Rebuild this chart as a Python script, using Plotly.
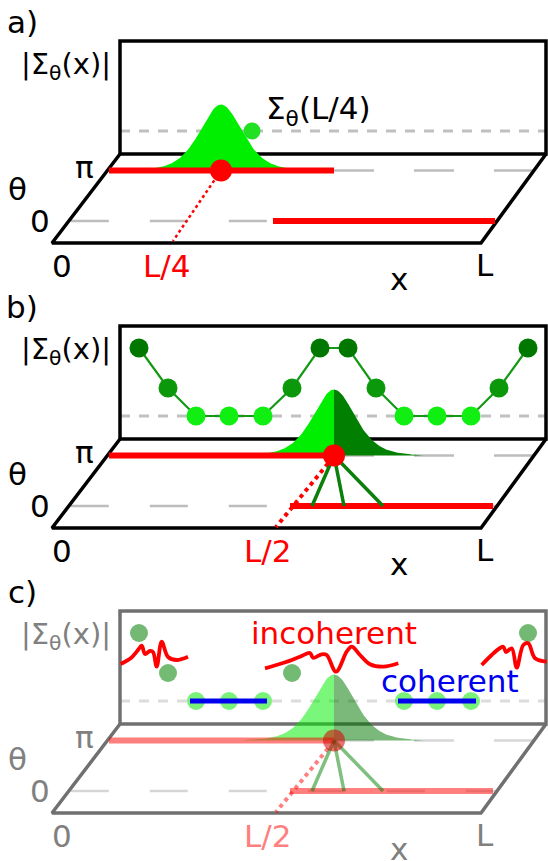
import numpy as np
import plotly.graph_objects as go

W, H = 548, 861
FONT = "DejaVu Sans"

# ---------------- geometry of one panel (panel a frame, px) ----------------
PANEL_DY = [0, 285, 570]
WALL_X0, WALL_X1, WALL_TOP, WALL_BOT = 120, 546, 41, 154
FRONT_X0, FRONT_X1, FRONT_Y = 52, 481, 243
Y_PI, Y_ZERO, Y_BASE = 170.5, 221, 131

# ---------------- schematic data ----------------
# |Σθ(x)| at lattice sites (level above dashed reference line, px)
site_x = [139, 168, 196, 229, 263, 292, 320, 348, 376, 404, 437, 471, 499, 528]
levels_b = [2, 1, 0, 0, 0, 1, 2, 2, 1, 0, 0, 0, 1, 2]
levels_c = [2, 1, 0, 0, 0, 1, None, None, None, 0, 0, 0, None, 2]
level_px = {0: 0, 1: 28, 2: 68}

# domain-wall segments (x extents of red lines) per panel
pi_segment = {"a": (109, 334), "b": (109, 334), "c": (109, 334)}
zero_segment = {"a": (273, 495), "b": (290, 493), "c": (290, 493)}
wall_pos = {"a": 221, "b": 334, "c": 334}          # position of probed site
front_hit = {"a": 173, "b": 276, "c": 276}          # dotted line foot on x axis
peak_height, peak_width = 66, 28                      # local self-energy bump
spoke_x = [312, 344, 383]                              # couplings to θ=0 line
sigma_a_dot = (252, 131)

# incoherent wiggles in panel c
wig_left_x = [120.7, 131, 138, 141.7, 145, 150, 153, 156.7, 161.7, 168, 176.7, 188]
wig_left_y = [664, 658, 650, 645.7, 654, 651, 652, 666.7, 641.7, 657, 660, 656.7]
wig_mid_x = [265, 283, 300, 310, 313, 321.7, 326.7, 336, 346.7, 351.7, 360, 370, 383.3, 398.3]
wig_mid_y = [668.3, 663, 656.7, 653, 657.7, 654.3, 655, 671.7, 651.7, 646.7, 655, 664.3, 666.7, 663.3]
wig_right_x = [481.7, 491.7, 500, 503.3, 506, 511.7, 516.7, 523.3, 528.3, 535, 546.7]
wig_right_y = [665, 655, 648, 646.7, 652, 648.3, 667.7, 645, 643.3, 658.3, 661.7]
coherent_x = [(190, 267), (398, 476)]

fig = go.Figure()


def line(xs, ys, color, width, dash="solid", mode="lines", shape="linear"):
    fig.add_trace(go.Scatter(x=xs, y=ys, mode=mode, hoverinfo="skip",
                             line=dict(color=color, width=width, dash=dash, shape=shape)))


def poly(xs, ys, color):
    fig.add_trace(go.Scatter(x=xs, y=ys, mode="lines", fill="toself", fillcolor=color,
                             line=dict(width=0), hoverinfo="skip"))


def dots(xs, ys, color, size):
    fig.add_trace(go.Scatter(x=xs, y=ys, mode="markers", hoverinfo="skip",
                             marker=dict(color=color, size=size, line=dict(width=0))))


def text(x, y, s, color="black", size=31):
    fig.add_annotation(x=x, y=y, text=s, showarrow=False, xanchor="center", yanchor="middle",
                       font=dict(family=FONT, size=size, color=color))


def left_edge_x(y):
    return FRONT_X0 + (FRONT_Y - y) / (FRONT_Y - WALL_BOT) * (WALL_X0 - FRONT_X0)


def right_edge_x(y):
    return FRONT_X1 + (FRONT_Y - y) / (FRONT_Y - WALL_BOT) * (WALL_X1 - FRONT_X1)


def bump(center, base, left_color, right_color, split):
    d = np.linspace(-3.2 * peak_width, 3.2 * peak_width, 161)
    prof = base - peak_height / np.cosh(d / peak_width) ** 2
    xs = center + d
    if split:
        m = d <= 0
        poly(list(xs[m]) + [center, xs[0]], list(prof[m]) + [base, base], left_color)
        m = d >= 0
        poly(list(xs[m]) + [xs[-1], center], list(prof[m]) + [base, base], right_color)
    else:
        poly(list(xs) + [xs[0]], list(prof) + [base], left_color)


styles = {
    "a": dict(frame="black", txt="black", red="#ff0000", redtxt="#ff0000", dash="#c0c0c0",
              fdash="#bdbdbd", dot_red="#ff0000"),
    "b": dict(frame="black", txt="black", red="#ff0000", redtxt="#ff0000", dash="#c0c0c0",
              fdash="#bdbdbd", dot_red="#ff0000"),
    "c": dict(frame="#707070", txt="#808080", red="rgba(255,0,0,0.5)", redtxt="#ff7f7f",
              dash="#dcdcdc", fdash="#d6d6d6", dot_red="rgba(215,0,0,0.55)"),
}

for k, (name, dy) in enumerate(zip(["a", "b", "c"], PANEL_DY)):
    st = styles[name]
    yb = Y_BASE + dy
    ypi = Y_PI + dy
    y0 = Y_ZERO + dy
    # dashed reference in wall
    line([WALL_X0, WALL_X1], [yb, yb], st["dash"], 3.2, dash="10px,9px")
    # floor dashed lines
    line([left_edge_x(Y_ZERO) + 2, right_edge_x(Y_ZERO)], [y0, y0], st["fdash"], 2.5, dash="38px,41px")
    line([334, right_edge_x(Y_PI)], [ypi, ypi], st["fdash"], 2.5, dash="40px,40px")
    # wall & floor frame
    line([WALL_X0, WALL_X0, WALL_X1, WALL_X1, WALL_X0],
         [WALL_BOT + dy, WALL_TOP + dy, WALL_TOP + dy, WALL_BOT + dy, WALL_BOT + dy], st["frame"], 3.5)
    line([WALL_X0, FRONT_X0, FRONT_X1, WALL_X1],
         [WALL_BOT + dy, FRONT_Y + dy, FRONT_Y + dy, WALL_BOT + dy], st["frame"], 3.5)

    c = wall_pos[name]
    if name == "a":
        bump(c, ypi, "#00ee00", "#00ee00", False)
        dots([sigma_a_dot[0]], [sigma_a_dot[1]], "#22e022", 17)
    elif name == "b":
        ys = [yb - level_px[l] for l in levels_b]
        line(site_x, ys, "#149914", 2.2)
        cols = {0: "#11ee11", 1: "#0b990b", 2: "#007800"}
        dots(site_x, ys, [cols[l] for l in levels_b], 19)
        bump(c, ypi, "#00ee00", "#007f00", True)
    else:
        xs = [x for x, l in zip(site_x, levels_c) if l is not None]
        ls = [l for l in levels_c if l is not None]
        cols = {0: "rgba(0,230,0,0.52)", 1: "rgba(0,130,0,0.55)", 2: "rgba(0,125,0,0.55)"}
        dots(xs, [yb - level_px[l] for l in ls], [cols[l] for l in ls], 18)
        for x0, x1 in coherent_x:
            line([x0, x1], [yb, yb], "#0000ee", 5)
        bump(c, ypi, "rgba(0,238,0,0.52)", "rgba(0,120,0,0.52)", True)

    # red domain lines
    p0, p1 = pi_segment[name]
    line([p0, p1], [ypi, ypi], st["red"], 6)
    z0, z1 = zero_segment[name]
    line([z0, z1], [y0, y0], st["red"], 6)
    # dotted projection to x axis
    if name == "a":
        line([c, front_hit[name]], [ypi, FRONT_Y + dy - 2], st["red"], 2.5, dash="dot")
    else:
        line([c - 6, front_hit[name]], [ypi + 8, FRONT_Y + dy - 1], st["red"], 4, dash="dot")
        gcol = "#0a7f0a" if name == "b" else "rgba(0,128,0,0.5)"
        for sx in spoke_x:
            line([c, sx], [ypi, y0], gcol, 3.5)
    dots([c], [ypi], st["dot_red"], 22)

    if name == "c":
        for wx, wy in [(wig_left_x, wig_left_y), (wig_mid_x, wig_mid_y), (wig_right_x, wig_right_y)]:
            line(wx, wy, "#ff0000", 3.8, shape="spline")

    # labels
    text(22, 22 + dy, f"{name})", "black", 31)
    text(66, 66 + dy, "|Σ<sub>θ</sub>(x)|", st["txt"], 29)
    text(84, 167 + dy, "π", st["txt"])
    text(17, 189 + dy, "θ", st["txt"])
    text(40, 221 + dy, "0", st["txt"])
    text(62, 266 + dy, "0", st["txt"])
    text(485, 265 + dy, "L", st["txt"])
    text(399, 279 + dy, "x", st["txt"])
    text(166 if name == "a" else 267, 266 + dy, "L/4" if name == "a" else "L/2", st["redtxt"])

text(318, 110, "Σ<sub>θ</sub>(L/4)", "black", 31)
text(334, 633 + 0, "incoherent", "#ff0000", 31)
text(450, 681, "coherent", "#0000ee", 31)

fig.update_layout(
    width=W, height=H, margin=dict(l=0, r=0, t=0, b=0), showlegend=False,
    paper_bgcolor="white", plot_bgcolor="white",
    xaxis=dict(range=[0, W], visible=False, fixedrange=True),
    yaxis=dict(range=[H, 0], visible=False, fixedrange=True),
)
fig.write_html("out.html", config={"displayModeBar": False, "staticPlot": True},
               post_script="document.body.style.margin='0';document.body.style.overflow='hidden';")
